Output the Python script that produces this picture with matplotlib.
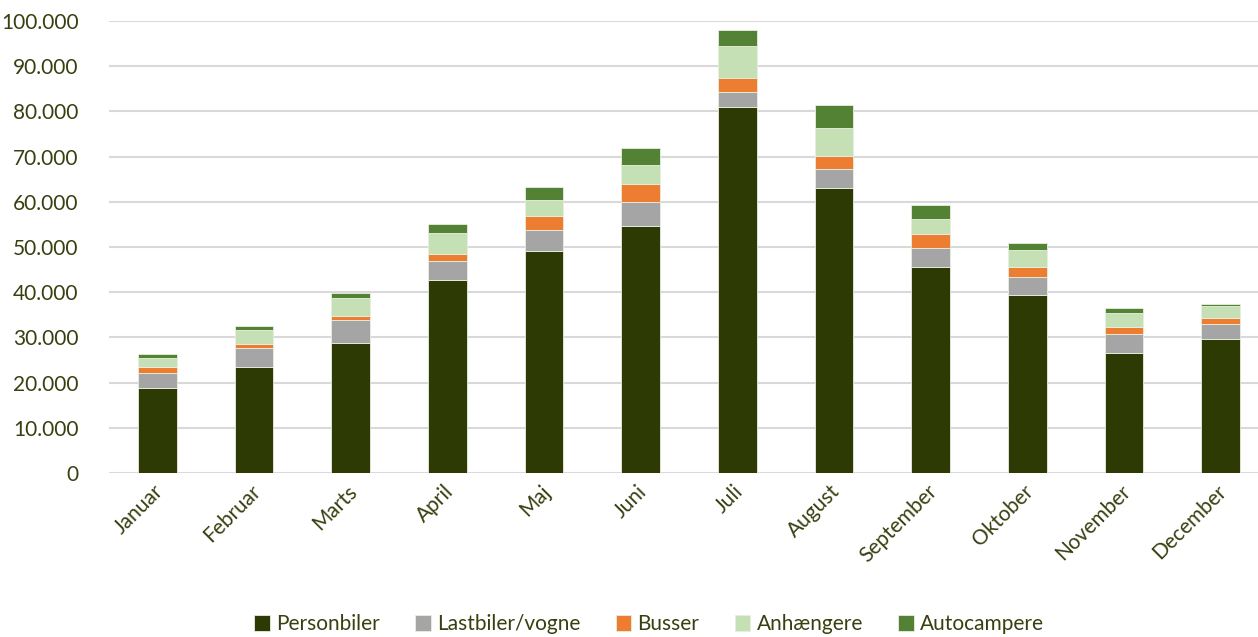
import matplotlib.pyplot as plt
import matplotlib.transforms as mtransforms
from matplotlib.ticker import FuncFormatter

# Data
months = ["Januar", "Februar", "Marts", "April", "Maj", "Juni",
          "Juli", "August", "September", "Oktober", "November", "December"]
personbiler = [18700, 23500, 28800, 42700, 49100, 54700, 81000, 63100, 45600, 39400, 26500, 29600]
lastbiler = [3400, 4100, 5000, 4100, 4700, 5300, 3300, 4100, 4200, 4000, 4300, 3400]
busser = [1300, 900, 1000, 1700, 3100, 4000, 3200, 3000, 3100, 2200, 1400, 1400]
anhaengere = [2100, 3100, 3900, 4500, 3600, 4100, 7000, 6100, 3400, 3700, 3100, 2500]
autocampere = [800, 900, 1100, 2100, 2700, 3700, 3600, 5200, 3000, 1600, 1200, 600]

series = [
    ("Personbiler", personbiler, "#2d3a04"),
    ("Lastbiler/vogne", lastbiler, "#a5a5a5"),
    ("Busser", busser, "#ed7d31"),
    ("Anhængere", anhaengere, "#c5e0b4"),
    ("Autocampere", autocampere, "#548235"),
]

text_color = "#3a3f10"
plt.rcParams['font.family'] = ['Lato', 'DejaVu Sans']

fig = plt.figure(figsize=(12.58, 6.37), dpi=100)
ax = fig.add_axes([109 / 1258, (637 - 473) / 637, 1 - 109 / 1258, (473 - 21) / 637])

x = list(range(len(months)))
bottom = [0] * len(months)
for name, vals, col in series:
    ax.bar(x, vals, bottom=bottom, width=0.4, color=col, label=name,
           edgecolor="#e8efe0", linewidth=0.6, zorder=3)
    bottom = [b + v for b, v in zip(bottom, vals)]

ax.set_ylim(0, 100000)
ax.set_xlim(-0.5, 11.386)
ax.set_yticks(range(0, 100001, 10000))
ax.yaxis.set_major_formatter(FuncFormatter(lambda v, p: f"{int(v):,}".replace(",", ".")))
ax.grid(axis="y", color="#d9d9d9", linewidth=1.5, zorder=0)
for s in ax.spines.values():
    s.set_visible(False)
ax.tick_params(length=0, labelsize=15, colors=text_color, pad=22)
ax.tick_params(axis="x", pad=6)
ax.set_xticks(x)
ax.set_xticklabels(months, rotation=45, ha="right", rotation_mode="anchor")
# shift month labels a little so they end near the bar centre
offset = mtransforms.ScaledTranslation(-0.04, 0, fig.dpi_scale_trans)
for lbl in ax.get_xticklabels():
    lbl.set_transform(lbl.get_transform() + offset)

leg = fig.legend(loc="lower center", ncol=5, frameon=False, fontsize=15,
                 bbox_to_anchor=(0.516, -0.025), handlelength=0.75, handleheight=0.75,
                 handletextpad=0.3, columnspacing=1.7)
for t in leg.get_texts():
    t.set_color(text_color)

fig.savefig("out.png", dpi=100)
